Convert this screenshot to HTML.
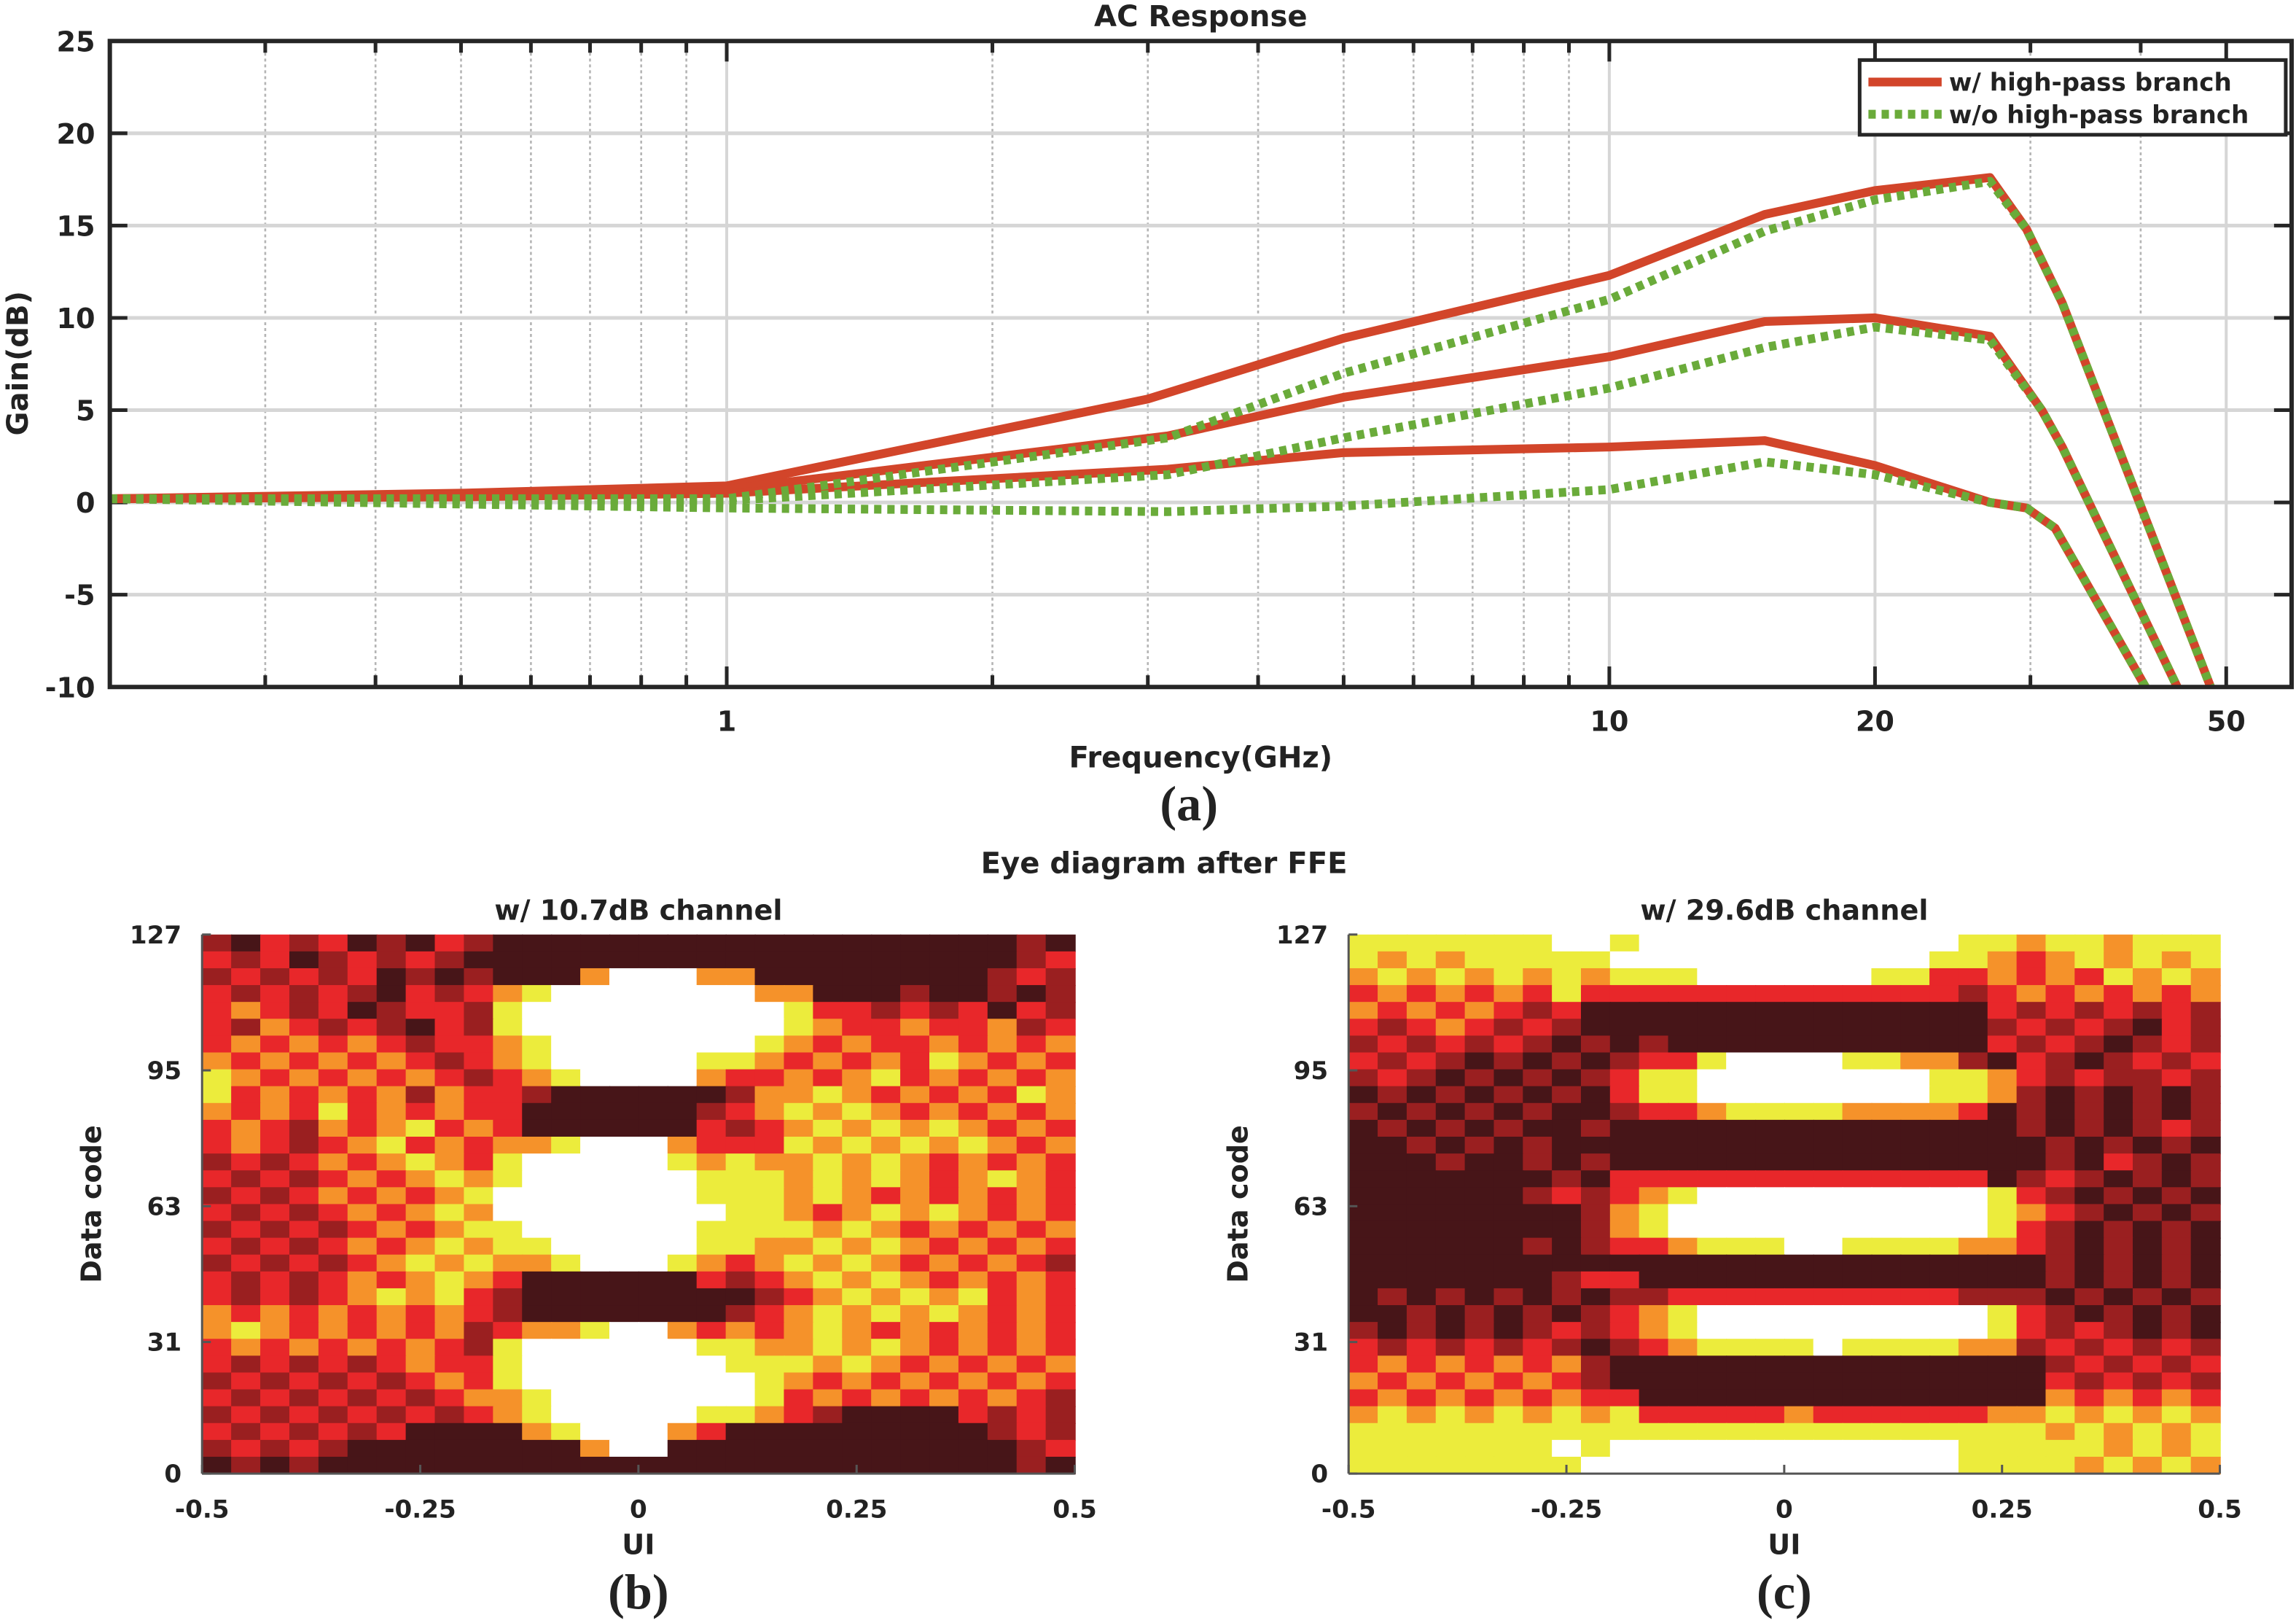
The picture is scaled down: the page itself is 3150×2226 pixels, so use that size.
<!DOCTYPE html>
<html><head><meta charset="utf-8"><style>
html,body{margin:0;padding:0;background:#fff}
svg{display:block}
text{font-family:"DejaVu Sans","Liberation Sans",sans-serif;font-weight:bold;fill:#222}
.serif{font-family:"Liberation Serif",serif}
</style></head><body>
<svg id="fig" width="3150" height="2226" viewBox="0 0 1568 1108" preserveAspectRatio="none" xmlns="http://www.w3.org/2000/svg">
<g id="topchart"></g>
<g id="eyeb"></g>
<g id="eyec"></g>
</svg>
<script>
// ---- AC response data ----
const yTicks=[25,20,15,10,5,0,-5,-10];
const xTickLabels=[1,10,20,50];
const redTopF=[0.2,0.5,1,3,5,10,15,20,27,29.7,32.6,48];
const redTopV=[0.2,0.5,0.9,5.6,8.9,12.3,15.6,16.9,17.6,14.8,10.8,-10];
const redMidF=[0.2,0.5,1,3.16,5,10,15,20,27,30.9,32.6,44];
const redMidV=[0.2,0.4,0.7,3.6,5.7,7.9,9.8,10.0,9.0,5.0,3.0,-10];
const redBotF=[0.2,0.5,1,3.16,5,10,15,20,27,29.7,32,40.5];
const redBotV=[0.2,0.3,0.5,1.8,2.7,3.0,3.35,2.0,0,-0.3,-1.4,-10];
const grnTopF=[0.2,1,3.16,5,10,15,20,27,29.7,32.6,48];
const grnTopV=[0.2,0.2,3.5,7.0,11.0,14.7,16.4,17.4,14.8,10.8,-10];
const grnMidF=[0.2,1,3.16,5,10,15,20,27,30.9,32.6,44];
const grnMidV=[0.2,0.1,1.5,3.5,6.2,8.4,9.5,8.8,5.0,3.0,-10];
const grnBotF=[0.2,1,3.16,5,10,15,20,27,29.7,32,40.5];
const grnBotV=[0.2,-0.3,-0.5,-0.2,0.7,2.2,1.5,0,-0.3,-1.4,-10];
// ---- eye diagram data (32 rows top->bottom, 30 columns; 0 dark ... 5 white) ----
const eyeB=[
"102120102100000000000000000010","212012121000000000000000000012",
"121212010100035553300000000121","212121021234555555533000100101",
"232120122145555555554221212021","213212102145555555554322322312",
"232323212234555555543232232323","323232321234555554432323243232",
"432323232123455553223234232323","423232313221000000133432323243",
"323242323220000001234343232323","232132342320000002123434343232",
"232123423233455532224343434323","121232343245555543433434323232",
"212123234345555554443434323432","121232323455555554443432323232",
"212123234355555555443234343232","121212323445555554444343232323",
"212123234344555554433434323232","121212343433455543234343232321",
"212123234320000002123434323232","212123434210000000012343434232",
"323232323210000000123434343232","343232323123345532323432323232",
"232323232145555554433434323232","212121232245555555444343232323",
"121212123245555555543232323232","212121212334555555542323232321",
"121212121234555554432100002121","212121200003455532000000000121",
"121210000000035500000000000012","010100000000000000000000000010"];
const eyeC=[
"444444455455555555555443443444","434344444555555555554432343434",
"343434343444555555442232324343","232323242222222222222123232323",
"323232120000000000000021212121","212321210000000000000012121021",
"121212101010000000000021210121","212101010122455554433102101212",
"121010101244555555554432121121","010101010244555555554431010101",
"101010100122344443333201010101","010101001000000000000001010121",
"001010100000000000000000101010","000100101000000000000000102101",
"000000010222222222222201210101","000000121234555555555542101010",
"000000001345555555555543210101","000000001345555555555542101010",
"000000101223444554444332101010","000000000000000000000000101010",
"000000012200000000000000101010","010101010112222222222111010101",
"001010101234555555555542101010","101010121234555555555542121010",
"212121210123444454444331212121","232323231000000000000000121212",
"323232321000000000000000212121","232323232200000000000000323232",
"343434343422222322222233434343","444444444444444444444444343434",
"444444454555555555555444443434","444444445555555555555444434343"];
const eyeYTicks=[0,31,63,95,127];
const eyeXTicks=[-0.5,-0.25,0,0.25,0.5];
const palette=["#471518","#9a1f20","#e8272a","#f5922a","#ecec3c","#ffffff"];

const NS="http://www.w3.org/2000/svg";
function mk(tag,attrs,parent,txt){const e=document.createElementNS(NS,tag);for(const k in attrs)e.setAttribute(k,attrs[k]);if(txt!==undefined)e.textContent=txt;parent.appendChild(e);return e;}

// ===== Top chart =====
const topG=document.getElementById('topchart');
const L=75,R=1565,T=28,B=469;
const fMin=0.2,fMax=59.3;
function xs(f){return L+(Math.log10(f)-Math.log10(fMin))/(Math.log10(fMax)-Math.log10(fMin))*(R-L);}
function ys(v){return T+(25-v)/35*(B-T);}
const minors=[0.3,0.4,0.5,0.6,0.7,0.8,0.9,2,3,4,5,6,7,8,9,30,40];
minors.forEach(f=>{const l=mk('line',{x1:xs(f),x2:xs(f),y1:T,y2:B,stroke:'#b5b5b5','stroke-width':1.3,'stroke-dasharray':'2,2'},topG);

});
xTickLabels.forEach(f=>{const l=mk('line',{x1:xs(f),x2:xs(f),y1:T,y2:B,stroke:'#d6d6d6','stroke-width':2},topG);

});
yTicks.forEach(v=>{const l=mk('line',{x1:L,x2:R,y1:ys(v),y2:ys(v),stroke:'#d6d6d6','stroke-width':2.5},topG);

});
yTicks.forEach(v=>{mk('line',{x1:L,x2:L+12,y1:ys(v),y2:ys(v),stroke:'#262626','stroke-width':2.5},topG);mk('line',{x1:R,x2:R-12,y1:ys(v),y2:ys(v),stroke:'#262626','stroke-width':2.5},topG);
const t=mk('text',{x:L-10,y:ys(v)+7,'text-anchor':'end','font-size':19},topG,String(v));

});
minors.concat(xTickLabels).forEach(f=>{const len=xTickLabels.includes(f)?14:8;mk('line',{x1:xs(f),x2:xs(f),y1:T,y2:T+len,stroke:'#262626','stroke-width':2.5},topG);mk('line',{x1:xs(f),x2:xs(f),y1:B,y2:B-len,stroke:'#262626','stroke-width':2.5},topG);});
xTickLabels.forEach(f=>{const t=mk('text',{x:xs(f),y:499,'text-anchor':'middle','font-size':19},topG,String(f));

});
function series(F,V,color,dash,name){let d='';F.forEach((f,i)=>{d+=(i?'L':'M')+xs(f).toFixed(1)+','+ys(V[i]).toFixed(1);});
const p=mk('path',{d:d,fill:'none',stroke:color,'stroke-width':6,'stroke-linejoin':'round','clip-path':'url(#pc)'},topG);if(dash)p.setAttribute('stroke-dasharray',dash);

}
const clip=mk('clipPath',{id:'pc'},topG);mk('rect',{x:L,y:T,width:R-L,height:B-T},clip);
series(redTopF,redTopV,'#d2452a',null,'series-with-hp-top');
series(redMidF,redMidV,'#d2452a',null,'series-with-hp-mid');
series(redBotF,redBotV,'#d2452a',null,'series-with-hp-bottom');
series(grnTopF,grnTopV,'#6aab3a','5,4','series-without-hp-top');
series(grnMidF,grnMidV,'#6aab3a','5,4','series-without-hp-mid');
series(grnBotF,grnBotV,'#6aab3a','5,4','series-without-hp-bottom');
const fr=mk('rect',{x:L,y:T,width:R-L,height:B-T,fill:'none',stroke:'#262626','stroke-width':3},topG);


const lg=mk('g',{},topG);


mk('rect',{x:1270,y:41,width:291,height:51,fill:'#fff',stroke:'#262626','stroke-width':2.5},lg);
mk('line',{x1:1276,x2:1326,y1:56,y2:56,stroke:'#d2452a','stroke-width':6},lg);
mk('line',{x1:1276,x2:1326,y1:78,y2:78,stroke:'#6aab3a','stroke-width':6,'stroke-dasharray':'5,4'},lg);
const l1=mk('text',{x:1331,y:62,'font-size':17},lg,'w/ high-pass branch');


const l2=mk('text',{x:1331,y:84,'font-size':17},lg,'w/o high-pass branch');


let t=mk('text',{x:820,y:18,'text-anchor':'middle','font-size':20},topG,'AC Response');


t=mk('text',{x:820,y:524,'text-anchor':'middle','font-size':20},topG,'Frequency(GHz)');


t=mk('text',{x:0,y:0,'text-anchor':'middle','font-size':20,transform:'translate(19,248) rotate(-90)'},topG,'Gain(dB)');


t=mk('text',{x:812,y:560,'text-anchor':'middle','font-size':34,class:'serif'},topG,'(a)');


t=mk('text',{x:795,y:596,'text-anchor':'middle','font-size':20},topG,'Eye diagram after FFE');



// ===== Eye diagrams =====
function eye(g,grid,x0,x1,title,label){const y0=638,y1=1006;
const ex=u=>x0+(u+0.5)*(x1-x0);const ey=c=>y1-c/127*(y1-y0);
const rows=grid.length,cols=grid[0].length;const cw=(x1-x0)/cols,rh=(y1-y0)/rows;
grid.forEach((row,r)=>{for(let c=0;c<cols;c++){const cell=mk('rect',{x:(x0+c*cw).toFixed(2),y:(y0+r*rh).toFixed(2),width:(cw+0.6).toFixed(2),height:(rh+0.6).toFixed(2),fill:palette[+row[c]]},g);

}});
mk('line',{x1:x0,x2:x0,y1:y0,y2:y1,stroke:'#555','stroke-width':1.5},g);
mk('line',{x1:x0,x2:x1,y1:y1,y2:y1,stroke:'#555','stroke-width':1.5},g);
eyeYTicks.forEach(v=>{mk('line',{x1:x0,x2:x0+6,y1:ey(v),y2:ey(v),stroke:'#555','stroke-width':1.5},g);
const tt=mk('text',{x:x0-14,y:ey(v)+6,'text-anchor':'end','font-size':17},g,String(v));

});
eyeXTicks.forEach(u=>{mk('line',{x1:ex(u),x2:ex(u),y1:y1,y2:y1-6,stroke:'#555','stroke-width':1.5},g);
const tt=mk('text',{x:ex(u),y:1036,'text-anchor':'middle','font-size':17},g,String(u));

});
let a=mk('text',{x:(x0+x1)/2,y:628,'text-anchor':'middle','font-size':19},g,title);


a=mk('text',{x:(x0+x1)/2,y:1061,'text-anchor':'middle','font-size':19},g,'UI');


a=mk('text',{x:0,y:0,'text-anchor':'middle','font-size':19,transform:'translate('+(x0-69)+',822) rotate(-90)'},g,'Data code');


a=mk('text',{x:(x0+x1)/2,y:1098,'text-anchor':'middle','font-size':34,class:'serif'},g,label);

}
eye(document.getElementById('eyeb'),eyeB,138,734,'w/ 10.7dB channel','(b)');
eye(document.getElementById('eyec'),eyeC,921,1516,'w/ 29.6dB channel','(c)');
</script>
</body></html>
